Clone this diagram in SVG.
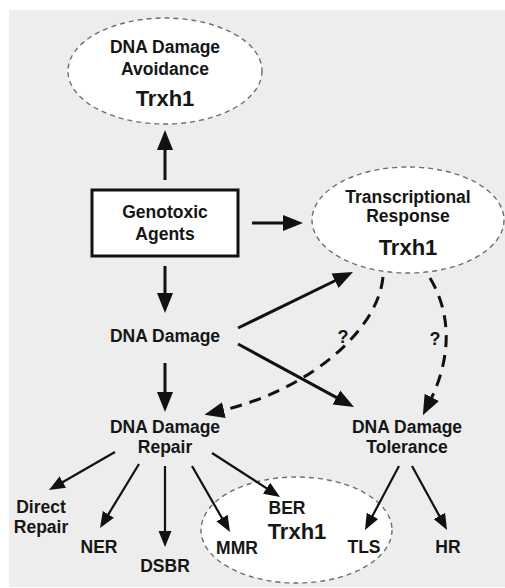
<svg xmlns="http://www.w3.org/2000/svg" width="505" height="588" viewBox="0 0 505 588">
<style>
text{font-family:"Liberation Sans",Arial,sans-serif;font-weight:bold;font-size:17.5px;fill:#161616;text-anchor:middle}
.big{font-size:22px}
.q{font-size:18px}
.oval{fill:#ffffff;stroke:#6e6e6e;stroke-width:1.4;stroke-dasharray:5 4}
.main{stroke:#111;stroke-width:3;fill:none;marker-end:url(#hm)}
.dash{stroke:#111;stroke-width:3;fill:none;stroke-dasharray:12 8;marker-end:url(#hm)}
.sub{stroke:#111;stroke-width:2.2;fill:none;marker-end:url(#hs)}
</style>
<defs>
<marker id="hm" markerUnits="userSpaceOnUse" markerWidth="24" markerHeight="20" viewBox="0 -10 24 20" refX="4" refY="0" orient="auto">
<path d="M0,-8 L20,0 L0,8 Z" fill="#111"/>
</marker>
<marker id="hs" markerUnits="userSpaceOnUse" markerWidth="20" markerHeight="16" viewBox="0 -8 20 16" refX="3" refY="0" orient="auto">
<path d="M0,-6.5 L16,0 L0,6.5 Z" fill="#111"/>
</marker>
</defs>
<rect x="9" y="10" width="496" height="577" fill="#ededed"/>
<g id="avoidance">
<ellipse class="oval" cx="165" cy="71" rx="97" ry="53"/>
<text x="165" y="53">DNA Damage</text>
<text x="165" y="75">Avoidance</text>
<text class="big" x="165" y="106">Trxh1</text>
</g>
<g id="genotoxic">
<rect x="92" y="190" width="146" height="66" fill="#fff" stroke="#111" stroke-width="3"/>
<text x="165" y="218">Genotoxic</text>
<text x="165" y="240">Agents</text>
</g>
<g id="transcriptional">
<ellipse class="oval" cx="408" cy="220" rx="96" ry="53"/>
<text x="408" y="203">Transcriptional</text>
<text x="408" y="222">Response</text>
<text class="big" x="408" y="255">Trxh1</text>
</g>
<g id="damage">
<text x="165" y="342">DNA Damage</text>
</g>
<g id="repair">
<text x="165" y="433">DNA Damage</text>
<text x="165" y="453">Repair</text>
</g>
<g id="tolerance">
<text x="407" y="433">DNA Damage</text>
<text x="407" y="453">Tolerance</text>
</g>
<g id="trxh1-group">
<ellipse class="oval" cx="296.5" cy="530" rx="95.5" ry="53"/>
<text class="big" x="297" y="539">Trxh1</text>
</g>
<g id="direct"><text x="41" y="513">Direct</text><text x="41" y="533">Repair</text></g>
<g id="ner"><text x="99" y="553">NER</text></g>
<g id="dsbr"><text x="165" y="572">DSBR</text></g>
<g id="mmr"><text x="237" y="554">MMR</text></g>
<g id="ber"><text x="287" y="514">BER</text></g>
<g id="tls"><text x="364" y="553">TLS</text></g>
<g id="hr"><text x="448" y="553">HR</text></g>
<g id="connectors">
<line class="main" x1="165" y1="180" x2="165" y2="146"/>
<line class="main" x1="252" y1="223" x2="287" y2="223"/>
<line class="main" x1="165" y1="266" x2="165" y2="297"/>
<line class="main" x1="165" y1="363" x2="165" y2="396"/>
<line class="main" x1="238" y1="328" x2="338.6" y2="279"/>
<line class="main" x1="238" y1="344" x2="339.9" y2="399.4"/>
<path class="dash" d="M383,277 C378,330 310,390 220,411"/>
<path class="dash" d="M430,278 C455,320 448,365 430,401"/>
<text class="q" x="343" y="343">?</text>
<text class="q" x="435" y="345">?</text>
<line class="sub" x1="115" y1="452" x2="60.3" y2="483.5"/>
<line class="sub" x1="139" y1="464" x2="106.8" y2="516.9"/>
<line class="sub" x1="165" y1="466" x2="165" y2="534"/>
<line class="sub" x1="192" y1="466" x2="223.5" y2="520.7"/>
<line class="sub" x1="212" y1="453" x2="269.1" y2="489.9"/>
<line class="sub" x1="399" y1="466" x2="371.1" y2="518.5"/>
<line class="sub" x1="412" y1="466" x2="440.8" y2="518.6"/>
</g>
</svg>
